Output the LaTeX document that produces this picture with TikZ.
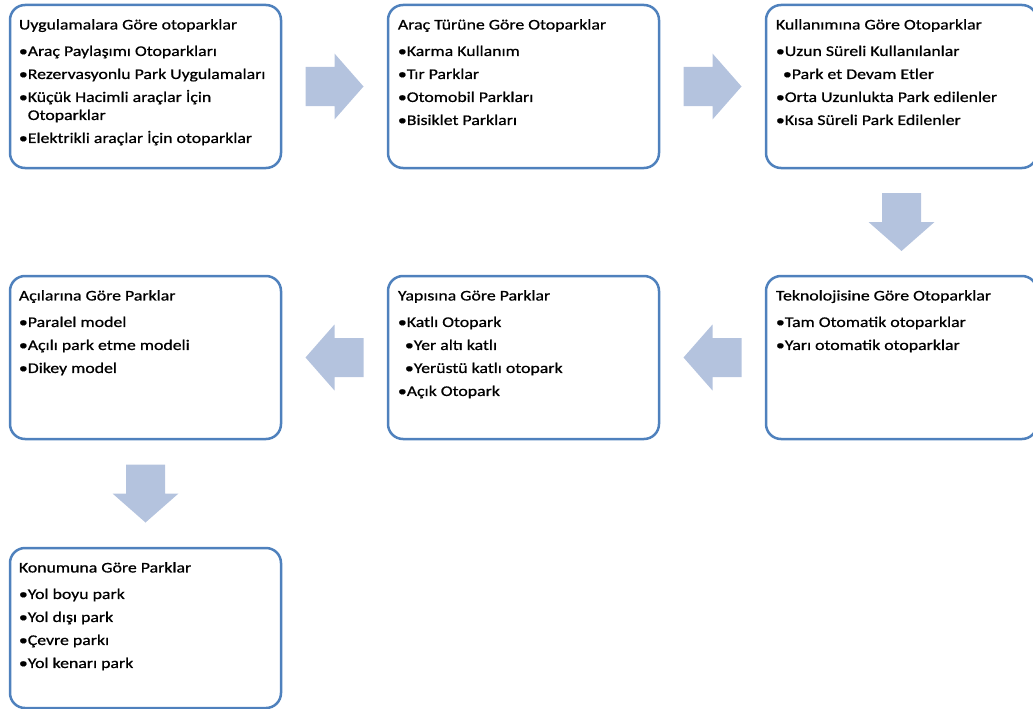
\documentclass[tikz,border=0pt]{standalone}
\usepackage{fontspec}
\setmainfont{Carlito}[FakeStretch=1.21,FakeBold=0.8]
\usetikzlibrary{calc}
\definecolor{boxblue}{HTML}{4F81BD}
\definecolor{okblue}{HTML}{B4C3DE}
\tikzset{
    katbox/.style={draw=boxblue,line width=2.5pt,rounded corners=15pt,
        minimum width=271pt,minimum height=163pt,inner sep=0pt},
    kattext/.style={anchor=north west,align=left,inner sep=0pt,
        font=\fontsize{14.7}{18}\selectfont},
    blokok/.pic={
        \fill[okblue] (-29,-19.5) -- (0,-19.5) -- (0,-33) -- (29,0)
            -- (0,33) -- (0,19.5) -- (-29,19.5) -- cycle;
    },
}
\newcommand{\ara}{\\[5pt]}
\newcommand{\ic}{\hspace{7pt}}
\newcommand{\ust}{\rule{0pt}{12pt}}
\begin{document}
\begin{tikzpicture}[x=1pt,y=-1pt]
    \useasboundingbox (0,0) rectangle (1033,709);
    %% first row
    \node[katbox] (b1) at (145.5,86.5) {};
    \node[katbox] (b2) at (523.5,86.5) {};
    \node[katbox] (b3) at (901.5,86.5) {};
    %% second row
    \node[katbox] (b4) at (901.5,357.5) {};
    \node[katbox] (b5) at (523.5,357.5) {};
    \node[katbox] (b6) at (145.5,357.5) {};
    %% third row
    \node[katbox,minimum height=160pt] (b7) at (145.5,628) {};
    %% texts
    \node[kattext] (t1) at ([shift={(10,13.5)}]b1.north west)
        {\ust Uygulamalara Göre otoparklar\\[8.5pt]
         •Araç Paylaşımı Otoparkları\ara
         •Rezervasyonlu Park Uygulamaları\ara
         •Küçük Hacimli araçlar İçin\\
         \phantom{•}Otoparklar\ara
         •Elektrikli araçlar İçin otoparklar};
    \node[kattext] (t2) at ([shift={(11,13.5)}]b2.north west)
        {\ust Araç Türüne Göre Otoparklar\\[8.5pt]
         •Karma Kullanım\ara
         •Tır Parklar\ara
         •Otomobil Parkları\ara
         •Bisiklet Parkları};
    \node[kattext] (t3) at ([shift={(11,13.5)}]b3.north west)
        {\ust Kullanımına Göre Otoparklar\\[8.5pt]
         •Uzun Süreli Kullanılanlar\ara
         \ic•Park et Devam Etler\ara
         •Orta Uzunlukta Park edilenler\ara
         •Kısa Süreli Park Edilenler};
    \node[kattext] (t4) at ([shift={(11,13.5)}]b4.north west)
        {\ust Teknolojisine Göre Otoparklar\\[8.5pt]
         •Tam Otomatik otoparklar\ara
         •Yarı otomatik otoparklar};
    \node[kattext] (t5) at ([shift={(11,13.5)}]b5.north west)
        {\ust Yapısına Göre Parklar\\[8.5pt]
         •Katlı Otopark\ara
         \ic•Yer altı katlı\ara
         \ic•Yerüstü katlı otopark\ara
         •Açık Otopark};
    \node[kattext] (t6) at ([shift={(10,13.5)}]b6.north west)
        {\ust Açılarına Göre Parklar\\[8.5pt]
         •Paralel model\ara
         •Açılı park etme modeli\ara
         •Dikey model};
    \node[kattext] (t7) at ([shift={(10,13.5)}]b7.north west)
        {\ust Konumuna Göre Parklar\\[8.5pt]
         •Yol boyu park\ara
         •Yol dışı park\ara
         •Çevre parkı\ara
         •Yol kenarı park};
    %% block arrows
    \pic (o12) at ($(b1.east)!0.5!(b2.west)$) {blokok};
    \pic (o23) at ($(b2.east)!0.5!(b3.west)$) {blokok};
    \pic[rotate=-90] (o34) at ($(b3.south)!0.5!(b4.north)$) {blokok};
    \pic[rotate=180] (o45) at ($(b4.west)!0.5!(b5.east)$) {blokok};
    \pic[rotate=180] (o56) at ($(b5.west)!0.5!(b6.east)$) {blokok};
    \pic[rotate=-90] (o67) at ($(b6.south)!0.5!(b7.north)$) {blokok};
\end{tikzpicture}
\end{document}
